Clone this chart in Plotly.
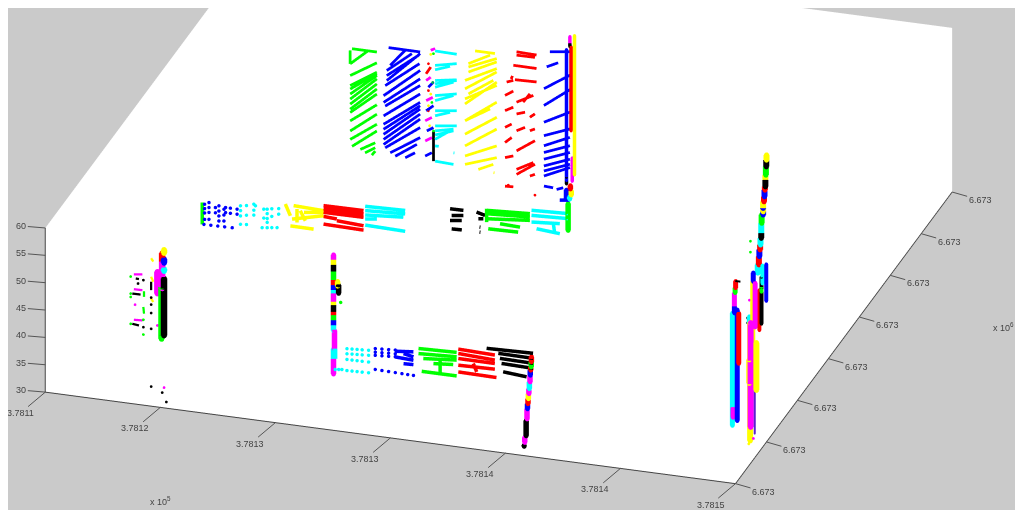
import plotly.graph_objects as go

GRAY = '#cacaca'
x_ticks = [0, 5, 10, 15, 20, 25, 30]
x_labels = ['3.7811', '3.7812', '3.7813', '3.7813', '3.7814', '3.7814', '3.7815']
y_ticks = [0, 5, 10, 15, 20, 25, 30, 35]
y_labels = ['6.673'] * 8
z_ticks = [30, 35, 40, 45, 50, 55, 60]

# x in metres from 378110+, y in metres, z height. Runs are (x1, z1, x2, z2).
back_y = 29
back_green = [(5.53,51.68,6.61,51.68),(5.45,51.34,5.45,48.88),(5.45,48.88,6.25,51.78),(5.45,46.73,6.61,49.71),(5.45,44.89,6.61,47.99),(5.45,44.27,6.61,47.69),(5.45,43.35,6.61,47.38),(5.45,42.43,6.61,46.77),(5.45,41.51,6.61,45.85),(5.45,40.59,6.61,44.93),(5.45,39.98,6.61,44.0),(5.45,38.44,6.61,42.04),(5.45,36.6,6.61,40.32),(5.45,35.06,6.61,38.48),(5.53,33.84,6.61,37.25),(5.89,33.47,6.54,35.06),(6.1,32.97,6.54,34.14),(6.39,32.71,6.54,33.53)]
back_blue = [(7.12,52.77,8.49,52.74),(7.04,46.7,8.49,52.43),(7.04,47.62,8.42,52.09),(7.04,48.54,8.13,52.23),(7.19,49.55,7.84,52.69),(6.97,45.74,8.46,50.58),(6.9,43.86,8.49,49.36),(6.9,42.63,8.49,47.83),(6.97,42.0,8.49,46.6),(6.9,40.17,8.49,45.06),(6.9,38.64,8.49,43.53),(6.9,37.72,8.49,42.9),(6.9,36.8,8.49,42.3),(6.9,35.87,8.49,41.38),(6.9,34.95,8.49,40.46),(6.97,34.38,8.49,38.92),(7.19,33.59,8.49,37.08),(7.41,33.09,8.35,35.77),(7.84,33.04,8.27,34.2),
 (13.87,49.03,15,52.12),(14.13,55.93,15,56.42),(13.99,53.09,14.49,54.11),(13.87,45.96,15,49.48),(13.87,42.9,15,45.37),(13.87,40.44,15,42.3),(13.87,38.6,15,40.76),(13.87,37.37,15,39.23),(13.87,36.14,15,38.0),(13.87,34.91,15,36.77),(13.87,33.99,15,35.85),(13.87,33.07,15,35.24),(13.87,31.23,14.27,31.14),(14.42,30.92,14.71,31.39),
 (8.85,46.5,9.07,47.54),(8.75,42.14,9.07,43.24),(8.78,38.48,9.07,39.25),(8.71,33.83,9.0,34.61)]
back_cyan = [(9.14,53.29,10.08,53.21),(9.14,50.65,10.08,51.49),(9.14,49.85,9.79,50.84),(9.14,47.89,10.08,48.54),(9.14,47.28,10.08,48.42),(9.14,46.66,9.94,48.03),(9.14,45.13,10.08,45.96),(9.14,44.21,9.94,45.58),(9.14,42.36,10.08,42.89),(9.14,41.44,9.79,42.43),(9.14,39.6,10.08,40.13),(9.14,38.68,9.94,39.44),(9.14,37.94,9.94,39.13),(9.14,37.14,9.79,39.05),(9.14,35.92,9.3,35.95),(9.14,33.15,9.94,33.0),(9.94,35.1,9.98,35.1)]
back_yellow = [(10.88,54.27,11.74,54.27),(10.59,51.78,11.53,53.85),(10.59,51.17,11.82,53.39),(10.59,50.25,11.82,52.78),(10.44,48.63,11.82,51.55),(10.44,47.09,11.82,50.93),(10.59,46.25,11.67,49.32),(10.44,45.25,11.82,48.48),(10.44,44.33,11.82,49.09),(10.44,41.26,11.53,44.02),(10.44,41.26,11.82,45.41),(10.44,38.81,11.82,42.65),(10.44,36.66,11.82,40.5),(10.44,34.82,11.82,37.43),(10.44,33.28,11.82,35.28),(11.02,32.68,11.67,33.97),(11.68,32.45,11.72,32.45)]
back_red = [(12.68,55.11,13.55,55.0),(12.68,54.5,13.48,54.53),(12.54,52.57,13.55,52.54),(12.45,50.0,12.5,50.6),(12.25,49.34,12.54,49.8),(12.61,49.97,13.55,50.08),(12.18,46.85,12.54,47.85),(12.68,45.9,13.41,47.54),(12.97,46.07,13.26,47.76),(12.18,44.08,12.54,44.9),(12.68,43.75,13.05,44.27),(13.26,43.47,13.48,44.21),(12.18,41.01,12.47,41.79),(12.68,40.68,13.05,41.5),(13.26,41.01,13.48,41.45),(12.18,38.25,12.47,39.33),(12.68,37.0,13.48,39.3),(12.18,35.49,12.54,36.0),(12.68,32.7,13.48,35.0),(12.68,33.62,13.41,35.26),(13.26,32.72,13.48,33.16),(12.18,30.27,12.54,30.35),(8.75,48.9,8.95,50.24)]
back_magenta = [(8.95,53.31,9.14,53.72),(8.75,47.67,8.95,48.39),(8.75,43.99,9.04,44.76),(8.71,36.6,9.0,37.37),(8.71,40.28,9.0,41.06)]
back_black = [(9.07,38.64,9.07,33.11)]
strip_dot_x = [8.85,8.85,8.85,8.95,8.95,8.85,8.9,9.07,9.04,9.0,9.07]
strip_dot_z = [50.8,45.89,42.2,52.57,45.3,43.12,39.5,52.76,47.5,43.8,38.64]
strip_dot_c = ['#ff0000','#ff0000','#ff0000','#ffff00','#ffff00','#ffff00','#ffff00','#00ff00','#00ff00','#00ff00','#00ff00']
# corner post of the back wall: (x, z top, z bottom, colour)
back_post = [(15.2,59.49,34.0,'#ffff00'),(15.05,57.34,41.99,'#ff0000'),(14.85,56.73,32.78,'#0000ff'),(15.0,59.2,57.95,'#ff00ff'),(15.0,57.95,57.34,'#000000'),(15.1,37.08,32.78,'#ff00ff'),(14.85,33.4,32.17,'#000000')]

mid_y = 18
mid_green = [(1.98,38.35,1.98,34.36),(14.34,43.81,16.22,44.25),(14.34,43.19,16.22,43.64),(14.34,42.27,16.22,43.02),(14.34,44.11,14.34,41.66),(14.41,40.47,15.71,40.59),(14.92,41.68,15.79,41.55)]
mid_blue_x = [2.08,2.08,2.08,2.08,2.27,2.27,2.27,2.27,2.70,2.70,2.70,2.70,2.92,2.92,2.92,2.55,2.55,2.99,2.99,3.2,3.2,3.49,3.49,2.05,2.35,2.65,2.95,3.28]
mid_blue_z = [38.09,37.3,36.5,35.33,38.51,37.6,36.7,35.44,38.15,37.2,36.3,35.38,37.65,36.6,35.5,37.75,36.8,38.0,37.08,38.0,37.07,37.98,37.06,34.39,34.41,34.43,34.45,34.47]
mid_blue_tip = [(17.52,47.45,17.95,47.7)]
mid_cyan_x = [3.64,3.64,3.64,3.64,3.9,3.9,4.22,4.22,4.22,4.29,4.65,4.65,4.8,4.8,4.8,4.8,5.0,5.0,5.3,5.3,4.58,4.8,5.0,5.23,3.9]
mid_cyan_z = [38.68,37.8,36.83,35.3,38.87,37.1,39.3,38.2,37.3,39.05,38.63,37.0,38.71,37.9,37.0,36.3,38.9,37.5,39.1,38.08,35.21,35.33,35.45,35.58,35.4]
mid_cyan = [(9.06,41.61,10.8,41.81),(9.06,40.82,10.8,41.19),(9.06,40.02,10.72,40.54),(9.06,39.28,9.57,39.57),(9.06,38.17,10.8,38.0),
 (16.29,44.91,17.88,45.19),(16.29,43.98,17.88,44.27),(16.29,42.76,17.52,43.15),(16.51,41.66,17.52,41.31),(17.23,43.3,17.3,41.19)]
mid_yellow = [(5.59,40.08,5.81,38.05),(5.95,39.99,7.25,39.8),(6.1,39.45,6.1,37.0),(5.88,37.49,7.25,38.87),(5.81,36.21,6.82,36.18),(6.24,39.23,6.46,37.5),(6.4,39.0,7.25,39.49)]
mid_red = [(7.25,40.72,8.99,40.78),(7.25,40.1,8.99,40.16),(7.25,39.49,8.99,39.55),(7.25,38.75,7.83,38.59),(7.25,37.34,8.99,37.21),(7.83,38.28,8.99,38.01)]
mid_black = [(12.75,43.21,13.33,43.24),(12.82,42.02,13.33,42.31),(12.75,41.06,13.26,41.35),(12.82,39.57,13.26,39.63),(13.9,43.25,14.27,42.84),(13.98,42.06,14.2,42.19),(14.03,40.57,14.07,40.57),(14.03,39.65,14.07,39.65)]
mid_post = [(17.88,47.03,42.12,'#00ff00'),(17.81,49.46,47.92,'#0000ff'),(17.98,50.37,49.75,'#ff0000'),(18.02,49.41,48.67,'#ffff00'),(17.95,48.31,47.88,'#00ffff')]
mid_dot_x = [16.44,15.28]
mid_dot_z = [47.76,48.94]

left_y = 0
left_post = [(5.16,58.9,58.3,'#ffff00'),(5.08,58.23,56.69,'#ff0000'),(5.16,57.2,56.5,'#0000ff'),(5.08,56.69,51.8,'#ff00ff'),(4.87,54.72,50.73,'#ff00ff'),(5.16,53.66,43.23,'#000000'),(5.05,52.07,42.55,'#00ff00'),(5.16,55.4,55.0,'#00ffff')]
left_magenta = [(3.85,53.66,4.22,53.87),(3.85,50.96,4.22,50.98),(3.85,45.37,4.22,45.46)]
left_black = [(3.93,52.96,4.07,52.92),(3.78,50.12,4.14,50.14),(3.78,44.6,4.07,44.45),(4.6,52.74,4.6,51.2)]
left_green = [(4.29,50.84,4.29,49.8),(4.26,47.94,4.29,46.73)]
left_yellow = [(4.6,57.04,4.69,56.47),(4.6,53.66,4.69,52.79),(4.6,49.67,4.69,49.1)]
left_dot_x = [3.71,3.71,3.71,3.71,4.26,4.26,3.9,4.87,5.16,4.26,4.03,4.6,4.6,4.6,4.6,4.98,4.26,4.6,5.08,5.26]
left_dot_z = [53.2,50.08,49.47,44.55,45.6,42.9,48.16,44.9,33.71,52.85,52.1,49.85,48.57,47.03,44.14,43.44,44.25,33.58,32.75,31.13]
left_dot_c = ['#00ff00','#00ff00','#00ff00','#00ff00','#00ff00','#00ff00','#ff00ff','#ff00ff','#ff00ff','#000000','#000000','#000000','#000000','#000000','#000000','#000000','#000000','#000000','#000000','#000000']

front_y = 0
front_cyan_x = [13.11,13.33,13.55,13.77,14.05,13.11,13.33,13.55,13.77,14.05,13.11,13.33,13.55,13.77,14.05,13.11,13.33,13.55,13.77,14.05,12.6,12.75,12.89]
front_cyan_z = [45.26,45.31,45.37,45.42,45.49,44.33,44.39,44.44,44.5,44.57,43.29,43.3,43.31,43.32,43.34,41.26,41.29,41.32,41.34,41.38,41.17,41.25,41.33]
front_cyan_post = [(12.6,44.98,12.6,43.13)]
front_blue_x = [14.34,14.63,14.92,15.21,14.34,14.63,14.92,15.21,14.34,14.63,14.92,15.21,14.34,14.63,14.92,15.21,15.5,15.75,16.0]
front_blue_z = [45.96,46.03,46.1,46.18,45.3,45.37,45.44,45.5,44.73,44.8,44.87,44.95,42.15,42.12,42.09,42.06,42.03,42.0,41.98]
front_blue_solid = [(15.2,45.95,16.0,46.28),(15.2,44.91,16.0,44.75),(15.57,43.88,16.0,43.95),(15.57,45.72,16.0,45.36)]
front_green = [(16.22,47.02,17.88,47.23),(16.22,46.09,17.88,46.43),(16.43,45.3,17.88,45.82),(16.87,44.62,17.73,44.93),(16.36,42.92,17.88,42.93),(17.16,45.7,17.16,42.63)]
front_red = [(17.95,47.87,19.54,47.67),(17.95,47.07,19.54,46.75),(17.95,46.15,19.54,46.13),(17.95,44.93,19.54,45.09),(17.95,43.7,19.61,43.6),(18.6,45.6,18.75,44.15)]
front_black = [(19.18,48.7,21.2,48.92),(19.69,48.06,21.2,48.0),(19.76,47.18,21.2,47.08),(19.83,46.3,21.2,46.16),(19.9,44.81,20.92,44.46)]
# right-hand post of the front wall, runs of colour (x, z top, z bottom, colour)
front_post = [(21.13,48.26,47.34,'#ff0000'),(21.12,47.34,46.4,'#00ff00'),(21.1,46.4,45.78,'#ff0000'),(21.08,45.78,44.85,'#0000ff'),(21.07,44.85,43.61,'#ff00ff'),(21.04,43.61,42.37,'#00ffff'),(21.02,42.37,41.44,'#ff00ff'),(21.0,41.44,40.51,'#ffff00'),(20.98,40.51,39.58,'#ff0000'),(20.96,39.58,38.64,'#0000ff'),(20.94,38.64,36.78,'#ff00ff'),(20.9,36.47,33.67,'#000000'),(20.84,33.37,32.43,'#ff00ff'),(20.81,31.9,31.7,'#000000')]

pillar2_y = 2
pillar2 = [(11.99,58.75,57.83,'#ff00ff'),(11.99,57.83,56.9,'#ffff00'),(11.99,56.9,55.68,'#000000'),(11.99,55.68,54.14,'#00ff00'),(11.99,54.14,53.2,'#ff0000'),(11.99,53.2,52.3,'#0000ff'),(11.99,52.3,51.69,'#00ffff'),(11.99,51.69,50.15,'#ff00ff'),(11.99,50.15,49.54,'#ffff00'),(11.99,49.54,48.31,'#000000'),(11.99,48.31,47.7,'#ff0000'),(11.99,47.7,46.77,'#00ff00'),(11.99,46.77,45.85,'#0000ff'),(11.99,45.85,44.93,'#00ffff'),(12.03,44.93,41.56,'#ff00ff'),(11.99,41.56,39.72,'#00ffff'),(11.99,39.72,36.95,'#ff00ff'),(12.21,53.34,51.81,'#000000'),(12.17,54.0,53.1,'#ffff00')]
pillar2_dot_x = [12.3]
pillar2_dot_z = [50.21]

top_y = 22
top_pillar = [(25.43,54.03,53.11,'#ffff00'),(25.42,53.11,51.88,'#000000'),(25.4,51.88,50.35,'#00ff00'),(25.38,50.35,49.43,'#ffff00'),(25.38,49.43,48.2,'#000000'),(25.36,48.2,47.59,'#ff0000'),(25.34,47.59,46.35,'#0000ff'),(25.32,46.35,45.43,'#ff0000'),(25.28,45.43,43.59,'#ffff00'),(25.28,44.2,43.0,'#0000ff'),(25.22,42.98,41.45,'#00ff00'),(25.2,41.45,39.61,'#00ffff'),(25.2,39.61,38.69,'#000000'),(25.17,38.69,37.46,'#00ffff'),(25.15,37.46,36.54,'#ff0000'),(25.12,36.54,35.3,'#0000ff'),(25.1,35.3,33.78,'#ff0000'),(25.05,33.78,32.25,'#00ffff')]

lower_y = 12
lower_pillar = [(28.11,50.8,44.05,'#0000ff'),(27.94,50.5,47.13,'#00ffff'),(27.9,46.5,45.6,'#00ff00'),(27.81,45.9,38.53,'#ff0000'),(27.9,48.35,39.75,'#000000')]
lower_dot_x = [27.42,27.42]
lower_dot_z = [54.6,52.6]

far_y = 6
far_pillar = [(28.25,51.1,30.5,'#00ffff'),(28.46,51.8,31.5,'#0000ff'),(28.39,56.97,55.75,'#ff0000'),(28.53,51.2,42.0,'#ff0000'),(28.37,55.75,54.84,'#00ff00'),(28.34,54.8,52.34,'#ff00ff'),(28.34,52.34,51.1,'#0000ff'),(28.28,33.8,32.0,'#ff00ff')]
far_black = [(28.34,57.0,28.6,57.0)]

near_y = 8
near_pillar = [(28.62,55.6,54.0,'#0000ff'),(28.6,54.0,39.0,'#ffff00'),(28.7,53.8,45.7,'#ff00ff'),(28.45,47.5,46.2,'#00ffff')]
near_dot_x = [28.37,28.37,28.45]
near_dot_z = [47.2,46.3,50.5]
near_dot_c = ['#000000','#000000','#ff00ff']

base_y = 4
base_pillar = [(29.56,53.1,31.5,'#ffff00'),(29.58,53.1,34.0,'#ff00ff'),(29.83,49.6,40.9,'#ffff00'),(29.52,46.3,42.0,'#ffff00')]
base_edge = [(29.76,45.8,32.9,'#5a20d0')]
base_dot_x = [29.7,29.5]
base_dot_z = [32.0,30.9]
base_dot_c = ['#ff00ff','#ffff00']

fig = go.Figure()

def runs(items, y, color, width=6):
    xs, ys, zs = [], [], []
    for x1, z1, x2, z2 in items:
        xs += [x1, x2, None]; ys += [y, y, None]; zs += [z1, z2, None]
    fig.add_trace(go.Scatter3d(x=xs, y=ys, z=zs, mode='lines', line=dict(color=color, width=width), hoverinfo='skip'))

def posts(items, y, width=10):
    for x, z1, z2, color in items:
        fig.add_trace(go.Scatter3d(x=[x, x], y=[y, y], z=[z1, z2], mode='lines+markers',
                                   line=dict(color=color, width=width),
                                   marker=dict(size=width/4, color=color, line=dict(width=0)), hoverinfo='skip'))

def dots(xs, zs, y, color, size=1.6):
    fig.add_trace(go.Scatter3d(x=xs, y=[y]*len(xs), z=zs, mode='markers', marker=dict(size=size, color=color, line=dict(width=0)), hoverinfo='skip'))

GREEN, BLUE, CYAN, YELLOW, RED, MAGENTA, BLACK = '#00ff00', '#0000ff', '#00ffff', '#ffff00', '#ff0000', '#ff00ff', '#000000'
for items, c in [(back_green, GREEN), (back_blue, BLUE), (back_cyan, CYAN), (back_yellow, YELLOW), (back_magenta, MAGENTA), (back_black, BLACK), (back_red, RED)]:
    runs(items, back_y, c, 5.5)
dots(strip_dot_x, strip_dot_z, back_y, strip_dot_c)
posts(back_post, back_y, 7)
for items, c in [(mid_green, GREEN), (mid_blue_tip, BLUE), (mid_cyan, CYAN), (mid_yellow, YELLOW), (mid_red, RED), (mid_black, BLACK)]:
    runs(items, mid_y, c, 7)
dots(mid_blue_x, mid_blue_z, mid_y, BLUE, 2)
dots(mid_cyan_x, mid_cyan_z, mid_y, CYAN, 2)
posts(mid_post, mid_y, 11)
dots(mid_dot_x, mid_dot_z, mid_y, RED)
posts(left_post, left_y, 13)
for items, c in [(left_magenta, MAGENTA), (left_black, BLACK), (left_green, GREEN), (left_yellow, YELLOW)]:
    runs(items, left_y, c, 4.5)
dots(left_dot_x, left_dot_z, left_y, left_dot_c)
dots(front_cyan_x, front_cyan_z, front_y, CYAN, 2)
runs(front_cyan_post, front_y, CYAN, 9)
dots(front_blue_x, front_blue_z, front_y, BLUE, 2)
for items, c in [(front_blue_solid, BLUE), (front_green, GREEN), (front_red, RED), (front_black, BLACK)]:
    runs(items, front_y, c, 7)
posts(front_post, front_y, 11)
posts(pillar2, pillar2_y, 11)
dots(pillar2_dot_x, pillar2_dot_z, pillar2_y, GREEN, 2)
posts(top_pillar, top_y, 12)
posts(lower_pillar, lower_y, 8)
dots(lower_dot_x, lower_dot_z, lower_y, GREEN, 1.6)
posts(far_pillar, far_y, 10)
runs(far_black, far_y, BLACK, 4)
posts(near_pillar, near_y, 10)
dots(near_dot_x, near_dot_z, near_y, near_dot_c)
posts(base_pillar, base_y, 12)
posts(base_edge, base_y, 4)
dots(base_dot_x, base_dot_z, base_y, base_dot_c)

u = (.954, .2994, 0); v = (-.127, .403, .9064); w = (.2714, -.8647, .4225)
ds = 12.75 / 251; dv = -49 / 251
c = [u[i]*ds + v[i]*dv for i in range(3)]
D = 3

def ax(rng):
    return dict(range=rng, tickvals=[], showticklabels=False, showbackground=True, backgroundcolor='white', showgrid=False,
                zeroline=False, showline=True, linecolor='#444444', linewidth=2, ticks='',
                title=dict(text=''), showspikes=False)

TICK = dict(showarrow=True, arrowhead=0, arrowwidth=1, arrowcolor='#555555',
            font=dict(family='Liberation Sans', size=9, color='#444444'))
tick_notes = []
for t, l in zip(x_ticks, x_labels):
    tick_notes.append(dict(x=t, y=0, z=30, text=l, ax=-25, ay=21, **TICK))
for t, l in zip(y_ticks, y_labels):
    tick_notes.append(dict(x=30, y=t, z=30, text=l, ax=28, ay=8, **TICK))
for t in z_ticks:
    tick_notes.append(dict(x=0, y=0, z=t, text=str(t), ax=-24, ay=-2, **TICK))

fig.update_layout(width=1007, height=502, margin=dict(l=0, r=0, t=0, b=0), paper_bgcolor=GRAY, showlegend=False,
    scene=dict(bgcolor=GRAY, annotations=tick_notes,
        xaxis=ax([0, 30]), yaxis=ax([0, 35]), zaxis=ax([30, 60]),
        aspectmode='manual', aspectratio=dict(x=2.882, y=2.882, z=.7215),
        camera=dict(projection=dict(type='orthographic'),
                    eye=dict(x=D*w[0]+c[0], y=D*w[1]+c[1], z=D*w[2]+c[2]),
                    center=dict(x=c[0], y=c[1], z=c[2]), up=dict(x=0, y=0, z=1))),
    annotations=[
        dict(text='x 10<sup>5</sup>', x=152/1007, y=1-493/502, xref='paper', yref='paper', xanchor='center', yanchor='middle', showarrow=False, font=dict(family='Liberation Sans', size=9, color='#444444')),
        dict(text='x 10<sup>6</sup>', x=995/1007, y=1-319/502, xref='paper', yref='paper', xanchor='center', yanchor='middle', showarrow=False, font=dict(family='Liberation Sans', size=9, color='#444444')),
    ])
fig.write_html('out.html')
